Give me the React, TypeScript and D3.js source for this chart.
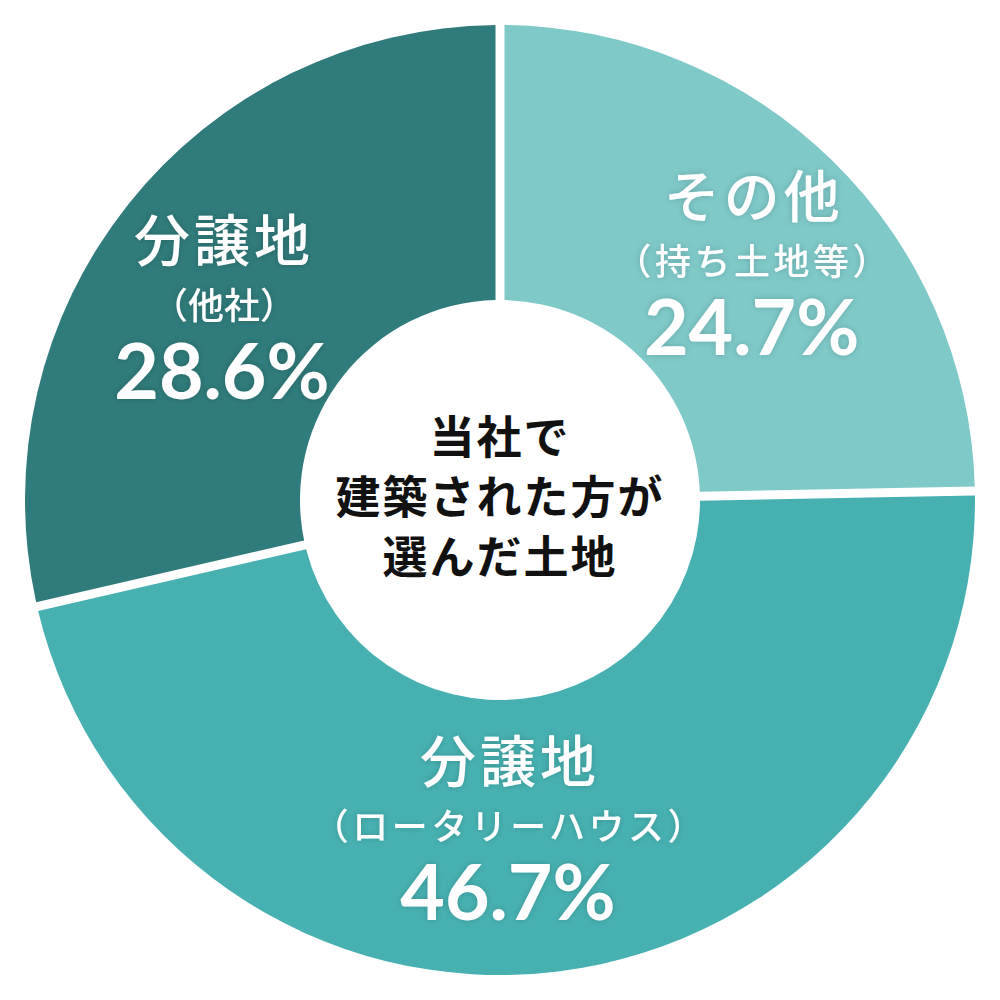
import React from 'react';
import * as d3 from 'd3';

// 当社で建築された方が選んだ土地
const labels = ['その他', '分譲地', '分譲地'];
const subLabels = ['（持ち土地等）', '（ロータリーハウス）', '（他社）'];
const values = [24.7, 46.7, 28.6];
const colors = ['#7fc9c9', '#47b1b1', '#307b7b'];
const centerLines = ['当社で', '建築された方が', '選んだ土地'];

const jp = '"Noto Sans CJK JP", "Noto Sans", sans-serif';

const App: React.FC = () => {
  const width = 1000;
  const height = 1000;
  const cx = 500;
  const cy = 500;
  const outerR = 475;
  const innerR = 200;
  const gap = 9;

  const pie = d3.pie<number>().sort(null).value(d => d);
  const arcs = pie(values);

  const arc = d3.arc<d3.PieArcDatum<number>>()
      .innerRadius(innerR)
      .outerRadius(outerR)
      .padRadius(outerR)
      .padAngle(gap / outerR);

  const labelArc = d3.arc<d3.PieArcDatum<number>>()
      .innerRadius(335)
      .outerRadius(335);

  // small nudges so the text blocks sit where the original puts them
  const nudges: [number, number][] = [[17, 1], [-33, -5], [-16, 15]];
  const subSpacing = [3.5, 3.5, 0];

  return (
      <svg width={width} height={height}
           style={{position: 'absolute', left: 0, top: 0}}>
        <defs>
          <filter id="glow" x="-20%" y="-20%" width="140%" height="140%">
            <feDropShadow dx="0" dy="0" stdDeviation="3"
                          floodColor="#000" floodOpacity="0.18"/>
          </filter>
        </defs>
        <rect width={width} height={height} fill="#fff"/>
        <g transform={`translate(${cx},${cy})`}>
          {arcs.map((a, i) => (
              <path key={i} d={arc(a) || ''} fill={colors[i]}/>
          ))}
          {arcs.map((a, i) => {
            const [x, y] = labelArc.centroid(a);
            const lx = x + nudges[i][0];
            const ly = y + nudges[i][1];
            return (
                <g key={`l${i}`} filter="url(#glow)" fill="#fff"
                   textAnchor="middle">
                  <text x={lx + 2} y={ly - 45} fontFamily={jp} fontSize={56}
                        fontWeight={500} letterSpacing={4}>
                    {labels[i]}
                  </text>
                  <text x={lx + 2} y={ly + 13} fontFamily={jp} fontSize={36}
                        fontWeight={500} letterSpacing={subSpacing[i]}>
                    {subLabels[i]}
                  </text>
                  <text x={lx} y={ly + 93} fontFamily='Lato, "Noto Sans", sans-serif'
                        fontSize={77} fontWeight={700}>
                    {values[i].toFixed(1)}%
                  </text>
                </g>
            );
          })}
          <g textAnchor="middle" fill="#111" fontFamily={jp} fontWeight={700}
             fontSize={45}>
            {centerLines.map((t, i) => (
                <text key={t} x={0} y={-46 + i * 60} letterSpacing={2}>
                  {t}
                </text>
            ))}
          </g>
        </g>
      </svg>
  );
};

export default App;
